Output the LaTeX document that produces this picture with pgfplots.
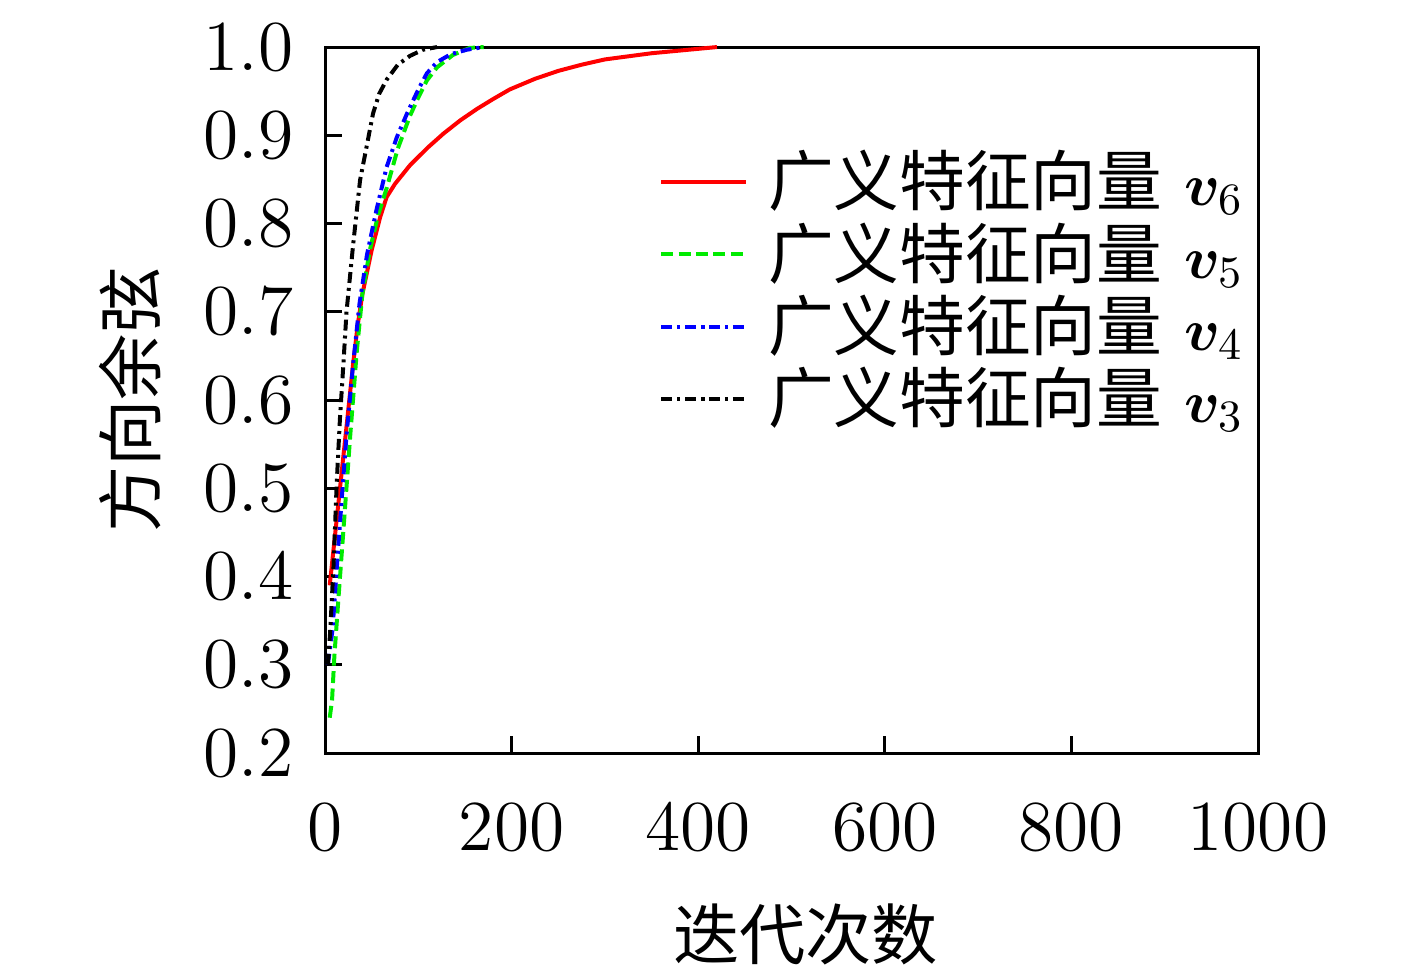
\documentclass[border=0pt]{standalone}
\usepackage{fontspec}
\usepackage{bm}
\usepackage{pgfplots}
\pgfplotsset{compat=1.18}
\newfontfamily\cjk{Noto Sans CJK SC}
\definecolor{cRed}{RGB}{255,0,0}
\definecolor{cGreen}{RGB}{0,235,0}
\definecolor{cBlue}{RGB}{0,0,255}
\begin{document}
\begin{tikzpicture}
\path[use as bounding box] (-2.294cm,-1.574cm) rectangle (7.706cm,5.314cm);
\begin{axis}[
  scale only axis,
  width=6.584cm, height=4.982cm,
  xmin=0, xmax=1000, ymin=0.2, ymax=1.0,
  xtick={0,200,400,600,800,1000},
  ytick={0.2,0.3,0.4,0.5,0.6,0.7,0.8,0.9,1.0},
  yticklabel style={/pgf/number format/fixed,/pgf/number format/fixed zerofill,/pgf/number format/precision=1, xshift=-0.1cm},
  xticklabel style={/pgf/number format/1000 sep={}, yshift=-0.24cm},
  tick label style={font=\fontsize{14}{17}\selectfont},
  tick align=inside, tick pos=left,
  major tick length=0.12cm,
  axis line style={line width=0.6pt},
  every tick/.style={black, line width=0.6pt},
  scaled x ticks=false,
  xlabel={\cjk 迭代次数},
  ylabel={\cjk 方向余弦},
  every axis x label/.style={at={(axis description cs:0.515,0)}, yshift=-1.28cm, anchor=center, font=\fontsize{13.3}{15}\selectfont},
  every axis y label/.style={at={(axis description cs:0,0.5)}, xshift=-1.376cm, rotate=90, anchor=center, font=\fontsize{13.3}{15}\selectfont},
  legend style={at={(0.357,0.862)}, anchor=north west, draw=none, fill=none, inner sep=0pt, row sep=0pt,
    font=\fontsize{13.2}{15}\selectfont, nodes={inner xsep=2pt, inner ysep=0.95pt}},
  legend cell align=left,
  clip=false,
]
\addplot[cRed, line width=0.8pt] coordinates {
(5,0.39)(10,0.44)(15,0.49)(20,0.54)(25,0.59)(30,0.64)(35,0.685)(40,0.72)(50,0.77)(59,0.807)(66,0.83)(75,0.845)(91,0.866)(110,0.886)(127,0.902)(145,0.917)(163,0.93)(180,0.941)(198,0.952)(225,0.964)(250,0.973)(275,0.980)(300,0.986)(350,0.993)(400,0.998)(420,1.0)
};
\addlegendentry{\hspace*{0.07cm}\cjk 广义特征向量\,\,$\bm{v}_6$}
\addplot[cGreen, line width=0.8pt, dash pattern=on 2.4pt off 1.1pt] coordinates {
(5,0.24)(7.5,0.26)(10,0.31)(14,0.37)(19.5,0.45)(27,0.56)(34,0.655)(40,0.72)(48,0.77)(57,0.81)(66,0.84)(78,0.885)(91,0.922)(100,0.943)(109,0.962)(120,0.977)(137,0.991)(155,0.999)(170,1.0)
};
\addlegendentry{\hspace*{0.07cm}\cjk 广义特征向量\,\,$\bm{v}_5$}
\addplot[cBlue, line width=0.8pt, dash pattern=on 2.2pt off 1pt on 0.6pt off 1pt] coordinates {
(3,0.30)(8,0.34)(12.6,0.41)(18,0.49)(23,0.56)(30,0.64)(37,0.71)(45,0.765)(55,0.815)(66,0.864)(77,0.898)(88,0.925)(100,0.952)(109,0.97)(120,0.983)(135,0.992)(152,0.997)(170,1.0)
};
\addlegendentry{\hspace*{0.07cm}\cjk 广义特征向量\,\,$\bm{v}_4$}
\addplot[black, line width=0.8pt, dash pattern=on 2.2pt off 1pt on 0.6pt off 1pt] coordinates {
(3,0.30)(5.4,0.336)(9,0.41)(12.5,0.506)(16,0.58)(19.6,0.64)(23,0.70)(30,0.775)(37.5,0.849)(44.5,0.887)(51.5,0.925)(58,0.947)(66,0.963)(78,0.98)(91,0.99)(105,0.997)(120,1.0)
};
\addlegendentry{\hspace*{0.07cm}\cjk 广义特征向量\,\,$\bm{v}_3$}
\end{axis}
\end{tikzpicture}
\end{document}
